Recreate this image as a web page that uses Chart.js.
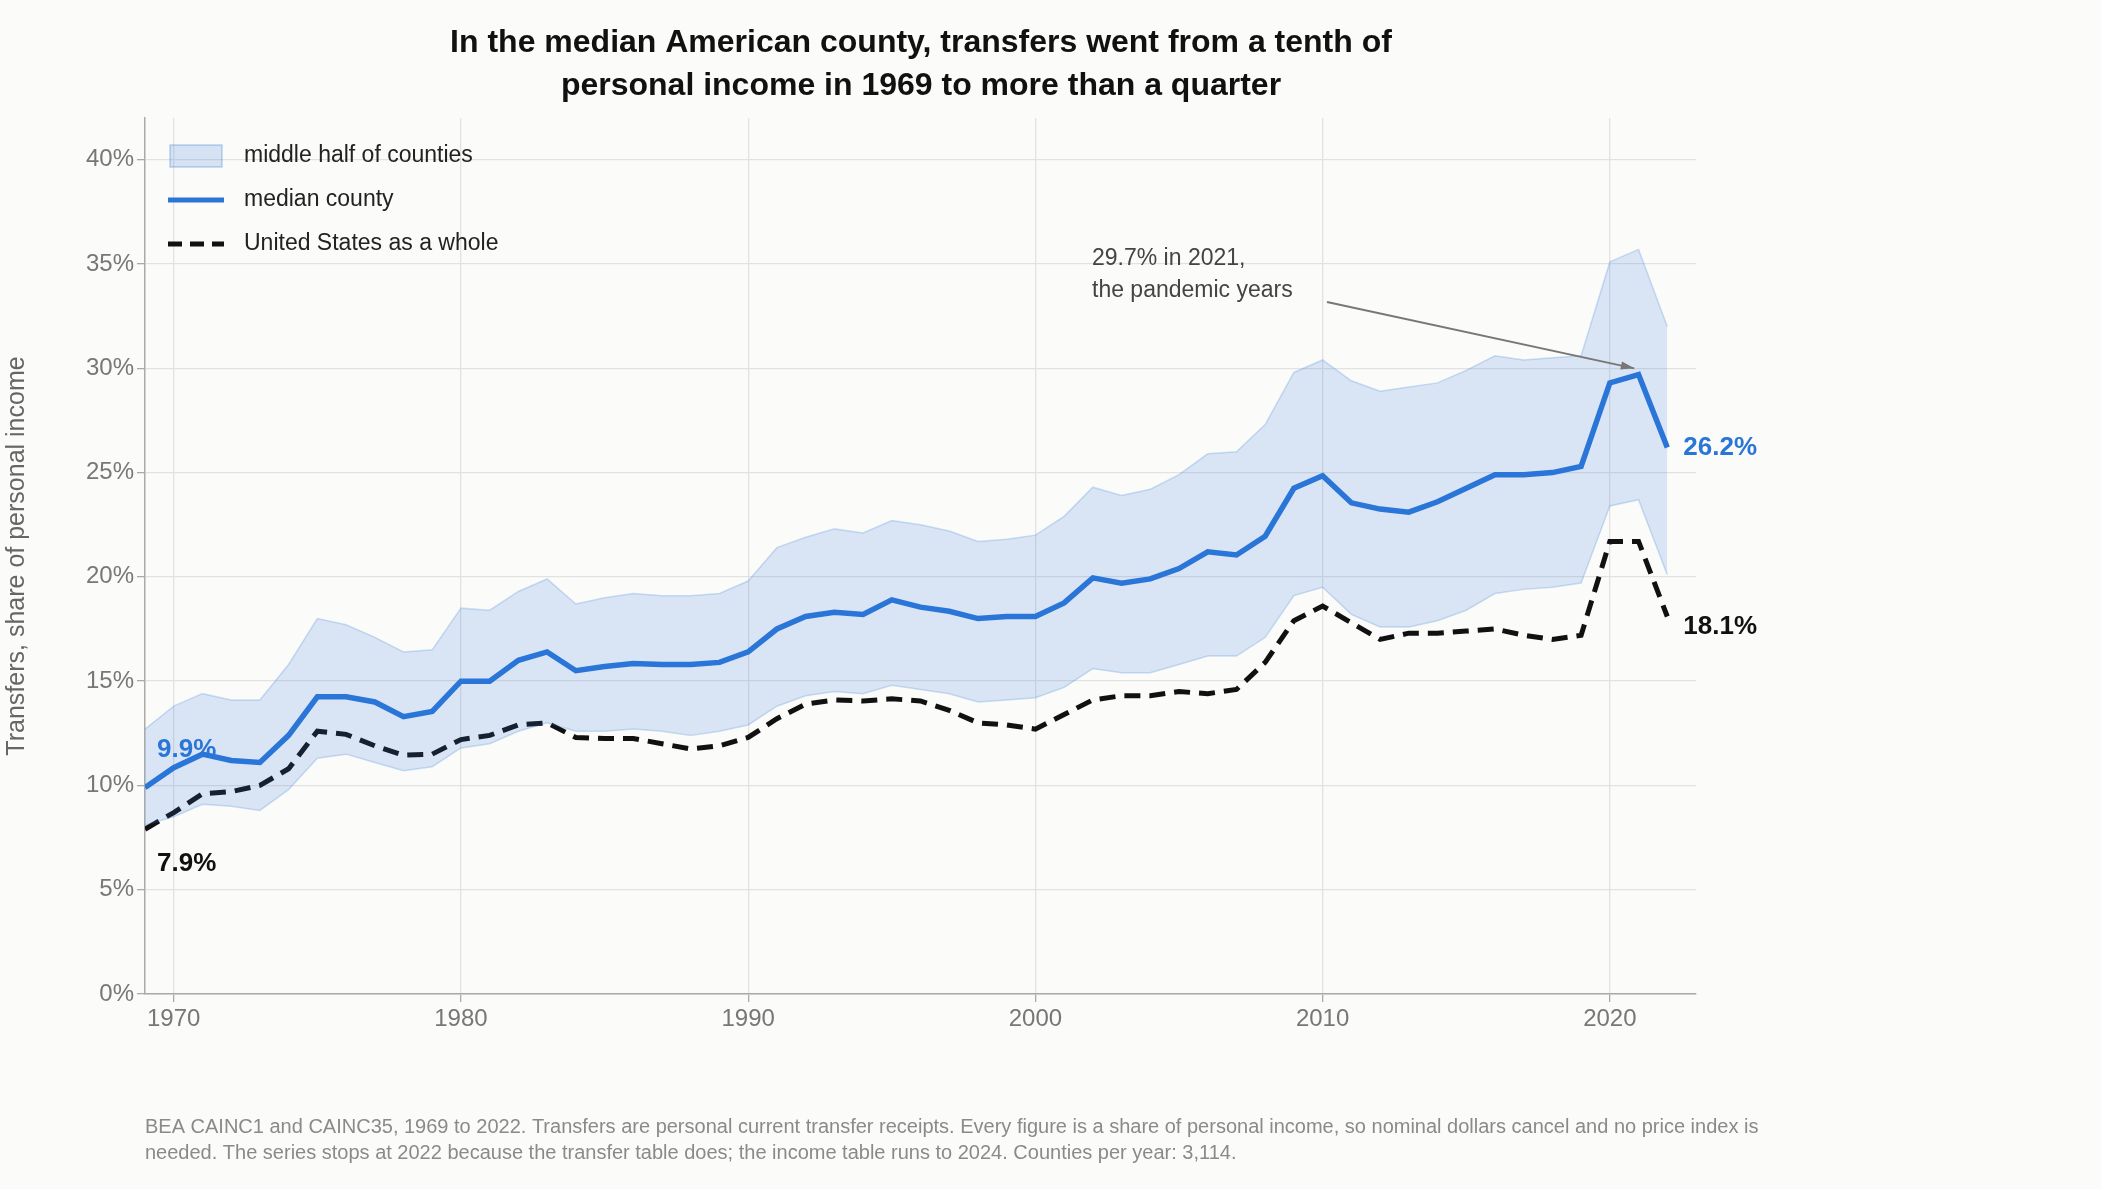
<!DOCTYPE html>
<html>
<head>
<meta charset="utf-8">
<script src="https://cdn.jsdelivr.net/npm/chart.js@4"></script>
<style>
  body { margin: 0; background: #fbfbf9; }
</style>
</head>
<body>
<canvas id="chart" width="2101" height="1189"></canvas>
<script>
const years = [];
for (let y = 1969; y <= 2022; y++) years.push(y);

const medianCounty = [9.9, 10.85, 11.5, 11.2, 11.1, 12.4, 14.25, 14.25, 14.0, 13.3, 13.55,
  15.0, 15.0, 16.0, 16.4, 15.5, 15.7, 15.85, 15.8, 15.8, 15.9,
  16.4, 17.5, 18.1, 18.3, 18.2, 18.9, 18.55, 18.35, 18.0, 18.1,
  18.1, 18.75, 19.95, 19.7, 19.9, 20.4, 21.2, 21.05, 21.95, 24.25,
  24.85, 23.55, 23.25, 23.1, 23.6, 24.25, 24.9, 24.9, 25.0, 25.3,
  29.3, 29.7, 26.2];
const usWhole = [7.9, 8.7, 9.6, 9.7, 10.0, 10.8, 12.6, 12.45, 11.9, 11.45, 11.5,
  12.2, 12.4, 12.9, 13.0, 12.3, 12.25, 12.25, 12.0, 11.75, 11.9,
  12.3, 13.2, 13.9, 14.1, 14.05, 14.15, 14.05, 13.6, 13.0, 12.9,
  12.7, 13.4, 14.1, 14.3, 14.3, 14.5, 14.4, 14.6, 15.9, 17.9,
  18.6, 17.8, 17.0, 17.3, 17.3, 17.4, 17.5, 17.2, 17.0, 17.2,
  21.7, 21.7, 18.1];
const upperQuartile = [12.7, 13.8, 14.4, 14.1, 14.1, 15.8, 18.0, 17.7, 17.1, 16.4, 16.5,
  18.5, 18.4, 19.3, 19.9, 18.7, 19.0, 19.2, 19.1, 19.1, 19.2,
  19.8, 21.4, 21.9, 22.3, 22.1, 22.7, 22.5, 22.2, 21.7, 21.8,
  22.0, 22.9, 24.3, 23.9, 24.2, 24.9, 25.9, 26.0, 27.3, 29.8,
  30.4, 29.4, 28.9, 29.1, 29.3, 29.9, 30.6, 30.4, 30.5, 30.6,
  35.1, 35.7, 32.0];
const lowerQuartile = [8.1, 8.5, 9.1, 9.0, 8.8, 9.8, 11.3, 11.5, 11.1, 10.7, 10.9,
  11.8, 12.0, 12.6, 13.0, 12.6, 12.6, 12.7, 12.6, 12.4, 12.6,
  12.9, 13.8, 14.3, 14.5, 14.4, 14.8, 14.6, 14.4, 14.0, 14.1,
  14.2, 14.7, 15.6, 15.4, 15.4, 15.8, 16.2, 16.2, 17.1, 19.1,
  19.5, 18.2, 17.6, 17.6, 17.9, 18.4, 19.2, 19.4, 19.5, 19.7,
  23.4, 23.7, 20.1];
const xTicks = [1970, 1980, 1990, 2000, 2010, 2020];

const FONT = "'Liberation Sans', Arial, sans-serif";
const BLUE = "#2a75d8";
const pts = arr => arr.map((v, i) => ({ x: years[i], y: v }));

const overlay = {
  id: "overlay",
  beforeDraw(chart) {
    const c = chart.ctx;
    c.save();
    c.fillStyle = "#fbfbf9";
    c.fillRect(0, 0, chart.width, chart.height);
    c.restore();
  },
  afterDraw(chart) {
    const c = chart.ctx, x = chart.scales.x, y = chart.scales.y;
    c.save();
    // title
    c.fillStyle = "#111";
    c.textAlign = "center";
    c.textBaseline = "middle";
    c.font = `bold 32px ${FONT}`;
    c.fillText("In the median American county, transfers went from a tenth of", 921, 43);
    c.fillText("personal income in 1969 to more than a quarter", 921, 86);
    // footnote
    c.textAlign = "left";
    c.fillStyle = "#8a8a8a";
    c.font = `20px ${FONT}`;
    c.fillText("BEA CAINC1 and CAINC35, 1969 to 2022. Transfers are personal current transfer receipts. Every figure is a share of personal income, so nominal dollars cancel and no price index is", 145, 1127);
    c.fillText("needed. The series stops at 2022 because the transfer table does; the income table runs to 2024. Counties per year: 3,114.", 145, 1153);
    // legend
    c.font = `23px ${FONT}`;
    c.fillStyle = "#222";
    c.fillStyle = "rgba(42,117,216,0.18)";
    c.fillRect(170, 145, 52, 22);
    c.strokeStyle = "rgba(42,117,216,0.3)";
    c.lineWidth = 1.5;
    c.strokeRect(170, 145, 52, 22);
    c.strokeStyle = BLUE; c.lineWidth = 5;
    c.beginPath(); c.moveTo(168, 200); c.lineTo(224, 200); c.stroke();
    c.strokeStyle = "#111"; c.setLineDash([14, 8]);
    c.beginPath(); c.moveTo(168, 244); c.lineTo(224, 244); c.stroke();
    c.setLineDash([]);
    c.fillStyle = "#222";
    c.fillText("middle half of counties", 244, 156);
    c.fillText("median county", 244, 200);
    c.fillText("United States as a whole", 244, 244);
    // end labels
    c.font = `bold 26px ${FONT}`;
    c.fillStyle = BLUE;
    c.fillText("26.2%", x.getPixelForValue(2022) + 16, y.getPixelForValue(26.2));
    c.fillText("9.9%", 157, 750);
    c.fillStyle = "#111";
    c.fillText("18.1%", x.getPixelForValue(2022) + 16, y.getPixelForValue(17.6));
    c.fillText("7.9%", 157, 864);
    // annotation
    c.font = `23px ${FONT}`;
    c.fillStyle = "#444";
    c.fillText("29.7% in 2021,", 1092, 259);
    c.fillText("the pandemic years", 1092, 291);
    const ex = x.getPixelForValue(2020.85), ey = y.getPixelForValue(30.0);
    const sx = 1327, sy = 302;
    c.strokeStyle = "#777"; c.lineWidth = 1.8;
    c.beginPath(); c.moveTo(sx, sy); c.lineTo(ex, ey); c.stroke();
    const a = Math.atan2(ey - sy, ex - sx);
    c.fillStyle = "#777";
    c.beginPath();
    c.moveTo(ex, ey);
    c.lineTo(ex - 14 * Math.cos(a - 0.3), ey - 14 * Math.sin(a - 0.3));
    c.lineTo(ex - 14 * Math.cos(a + 0.3), ey - 14 * Math.sin(a + 0.3));
    c.closePath(); c.fill();
    c.restore();
  }
};

new Chart(document.getElementById("chart"), {
  type: "line",
  plugins: [overlay],
  data: {
    datasets: [
      { data: pts(upperQuartile), borderColor: "rgba(42,117,216,0.22)", borderWidth: 1.5,
        backgroundColor: "rgba(42,117,216,0.16)", fill: "+1", pointRadius: 0, tension: 0 },
      { data: pts(lowerQuartile), borderColor: "rgba(42,117,216,0.22)", borderWidth: 1.5,
        fill: false, pointRadius: 0, tension: 0 },
      { data: pts(usWhole), borderColor: "#111", borderWidth: 5, borderDash: [16, 9],
        fill: false, pointRadius: 0, tension: 0 },
      { data: pts(medianCounty), borderColor: BLUE, borderWidth: 5.5,
        fill: false, pointRadius: 0, tension: 0 }
    ]
  },
  options: {
    responsive: false,
    animation: false,
    layout: { padding: { left: 0, top: 118, right: 2101 - 1696, bottom: 0 } },
    plugins: { legend: { display: false }, tooltip: { enabled: false } },
    scales: {
      x: {
        type: "linear", min: 1969, max: 2023,
        afterBuildTicks: s => { s.ticks = xTicks.map(v => ({ value: v })); },
        afterFit: s => { s.height = 1189 - 994; },
        grid: { color: "#e2e2e2", lineWidth: 1.3, tickLength: 8, tickColor: "#aaa" },
        border: { color: "#aaa", width: 1.5 },
        ticks: { color: "#777", font: { family: FONT, size: 24 }, callback: v => String(v), maxRotation: 0 }
      },
      y: {
        min: 0, max: 42,
        afterBuildTicks: s => { s.ticks = [0, 5, 10, 15, 20, 25, 30, 35, 40].map(v => ({ value: v })); },
        afterFit: s => { s.width = 145; },
        grid: { color: "#e2e2e2", lineWidth: 1.3, tickLength: 8, tickColor: "#aaa" },
        border: { color: "#aaa", width: 1.5 },
        ticks: { color: "#777", font: { family: FONT, size: 24 }, callback: v => v + "%" },
        title: { display: true, text: "Transfers, share of personal income", color: "#666",
          font: { family: FONT, size: 25 }, padding: 2 }
      }
    }
  }
});
</script>
</body>
</html>
